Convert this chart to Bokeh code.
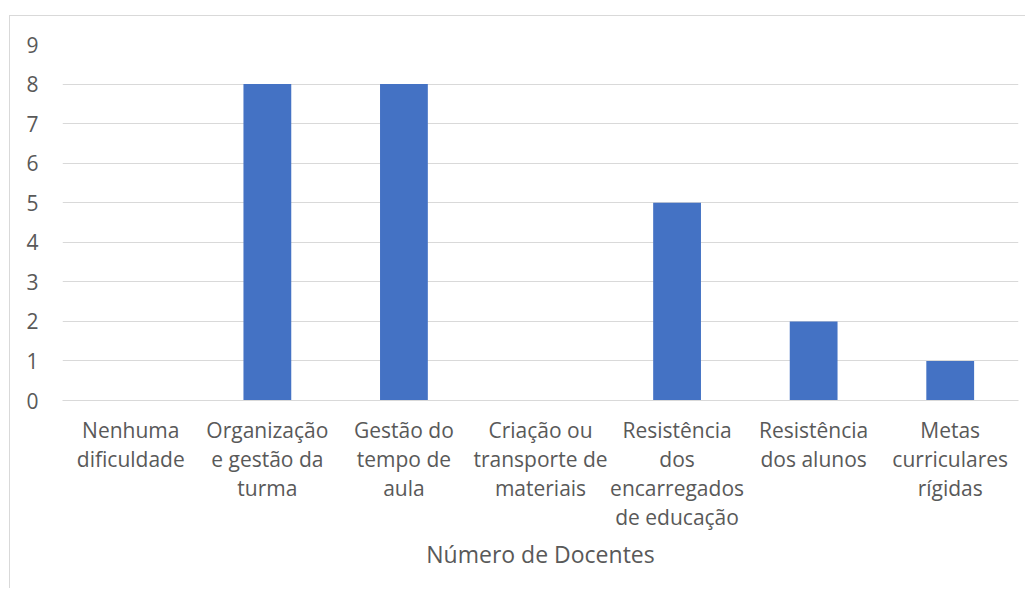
from bokeh.plotting import figure
from bokeh.models import Range1d, FactorRange, FixedTicker, ColumnDataSource, Spacer
from bokeh.layouts import column, row
from bokeh.embed import file_html
from bokeh.resources import INLINE

categories = [
    "Nenhuma\ndificuldade",
    "Organização\ne gestão da\nturma",
    "Gestão do\ntempo de\naula",
    "Criação ou\ntransporte de\nmateriais",
    "Resistência\ndos\nencarregados\nde educação",
    "Resistência\ndos alunos",
    "Metas\ncurriculares\nrígidas",
]
values = [0, 8, 8, 0, 5, 2, 1]
y_ticks = [0, 1, 2, 3, 4, 5, 6, 7, 8, 9]

FONT = "Open Sans"
TXT = "#595959"
GRID = "#d9d9d9"

src = ColumnDataSource(dict(cat=categories, val=values))

p = figure(
    x_range=FactorRange(factors=categories, range_padding=0),
    y_range=Range1d(0, 9),
    width=1016, height=573,
    output_backend="svg", toolbar_location=None,
    min_border_left=52, min_border_right=8, min_border_top=28, min_border_bottom=189,
)
p.styles = {"border-left": "1px solid #d9d9d9", "border-top": "1px solid #d9d9d9"}

p.vbar(x="cat", top="val", width=0.35, source=src, color="#4472C4", line_color=None)

p.outline_line_color = None
p.xgrid.grid_line_color = None
p.ygrid.grid_line_color = GRID
p.ygrid.grid_line_width = 1

p.yaxis.ticker = FixedTicker(ticks=y_ticks)
p.yaxis.axis_line_color = None
p.yaxis.major_tick_line_color = None
p.yaxis.minor_tick_line_color = None
p.yaxis.major_label_text_font = FONT
p.yaxis.major_label_text_font_size = "21px"
p.yaxis.major_label_text_color = TXT
p.yaxis.major_label_standoff = 18

p.xaxis.axis_line_color = GRID
p.xaxis.major_tick_line_color = None
p.xaxis.major_label_text_font = FONT
p.xaxis.major_label_text_font_size = "21px"
p.xaxis.major_label_text_line_height = 1.04
p.xaxis.major_label_text_color = TXT
p.xaxis.major_label_standoff = 9
p.xaxis.axis_label = "Número de Docentes"
p.xaxis.axis_label_text_font = FONT
p.xaxis.axis_label_text_font_size = "23px"
p.xaxis.axis_label_text_font_style = "normal"
p.xaxis.axis_label_text_color = TXT
p.xaxis.axis_label_standoff = 4

p.border_fill_color = "white"
p.background_fill_color = "white"

layout = column(Spacer(height=15), row(Spacer(width=9), p))

open("out.html", "w").write(file_html(layout, INLINE))
